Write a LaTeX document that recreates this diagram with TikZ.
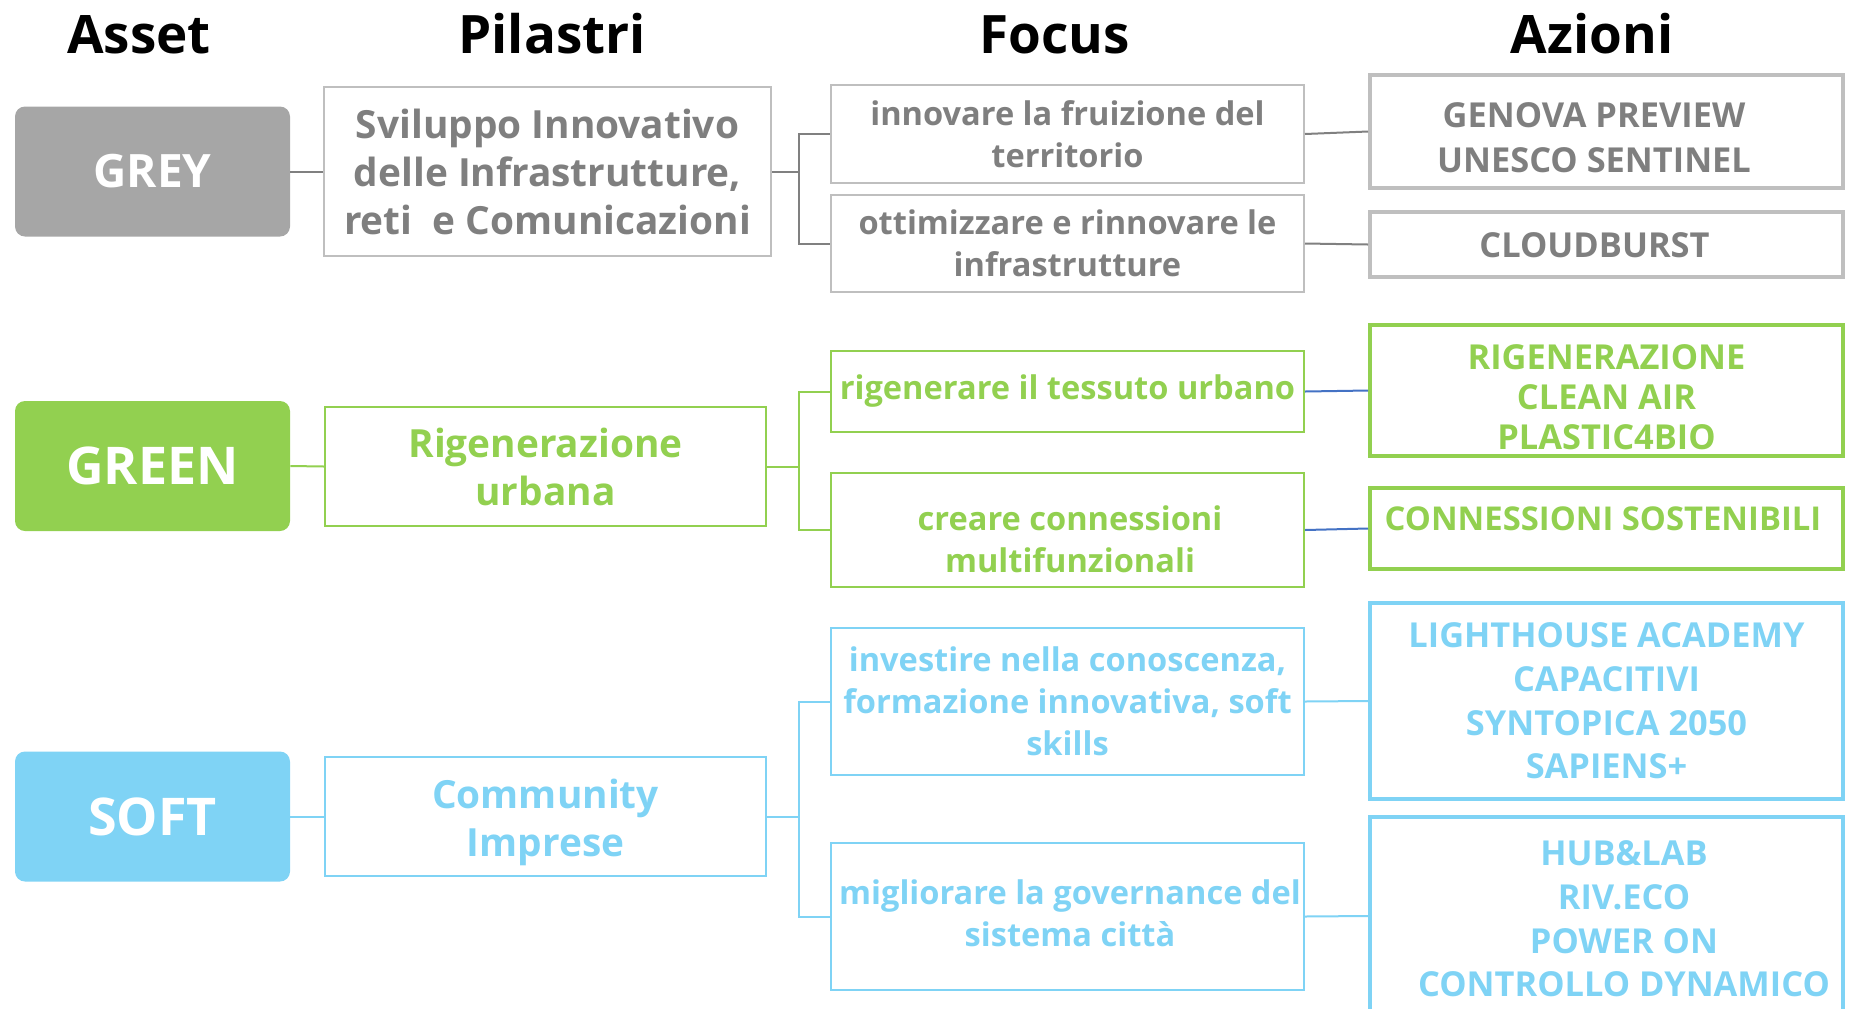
\documentclass[tikz,border=0pt]{standalone}
\usepackage{fontspec}
\setmainfont{Open Sans}
\definecolor{greyfill}{HTML}{A6A6A6}
\definecolor{greytxt}{HTML}{7F7F7F}
\definecolor{greybd}{HTML}{BFBFBF}
\definecolor{greyln}{HTML}{808080}
\definecolor{greenc}{HTML}{92D050}
\definecolor{bluec}{HTML}{7FD3F5}
\definecolor{linkblue}{HTML}{4472C4}
\begin{document}
\begin{tikzpicture}[x=0.5pt,y=-0.5pt,
  hdr/.style={anchor=base, font=\fontsize{26.5}{30}\selectfont\bfseries, text=black},
  asset/.style={rounded corners=5pt, inner sep=0pt, minimum width=137.5pt, minimum height=65pt, text=white},
  pil/.style={draw, line width=1pt, inner sep=0pt, align=center, font=\fontsize{19.4}{24}\selectfont\bfseries},
  foc/.style={draw, line width=1pt, inner sep=0pt, align=center, minimum width=236.5pt, font=\fontsize{16.3}{21}\selectfont\bfseries},
  azi/.style={draw, line width=2pt, inner sep=0pt, align=center, minimum width=236.5pt, font=\fontsize{17.2}{21.8}\selectfont\bfseries},
  txt/.style={inner sep=0pt, align=center},
  conn/.style={line width=1pt},
]
\useasboundingbox (0,0) rectangle (1849,1008);
\clip (0,0) rectangle (1849,1008);

% headers
\node[hdr] (hA) at (139,53) {Asset};
\node[hdr] (hP) at (552,53) {Pilastri};
\node[hdr] (hF) at (1055,53) {Focus};
\node[hdr] (hZ) at (1592,53) {Azioni};

% assets
\node[asset, fill=greyfill, font=\fontsize{23}{28}\selectfont\bfseries] (grey) at (152.5,171.5) {GREY};
\node[asset, fill=greenc, font=\fontsize{26}{30}\selectfont\bfseries] (green) at (152.5,466) {GREEN};
\node[asset, fill=bluec, font=\fontsize{26}{30}\selectfont\bfseries] (soft) at (152.5,816.5) {SOFT};

% pilastri
\node[pil, draw=greybd, text=greytxt, minimum width=223.5pt, minimum height=84.5pt] (p1) at (547.5,171.5)
  {Sviluppo Innovativo\\delle Infrastrutture,\\reti\ \ e Comunicazioni};
\node[pil, draw=greenc, text=greenc, minimum width=220.5pt, minimum height=59.5pt] (p2) at (545.5,466.5)
  {Rigenerazione\\urbana};
\node[pil, draw=bluec, minimum width=220.5pt, minimum height=59.5pt] (p3) at (545.5,816.5) {};
\node[txt, pil, draw=none, text=bluec] (p3t) at (545.5,822) {Community\\Imprese};

% focus
\node[foc, draw=greybd, text=greytxt, minimum height=49pt] (f1) at (1067.5,134) {innovare la fruizione del\\territorio};
\node[foc, draw=greybd, text=greytxt, minimum height=48.5pt] (f2) at (1067.5,243.5) {ottimizzare e rinnovare le\\infrastrutture};
\node[foc, draw=greenc, text=greenc, minimum height=40.5pt] (f3) at (1067.5,391.5) {rigenerare il tessuto urbano};
\node[foc, draw=greenc, minimum height=57pt] (f4) at (1067.5,530) {};
\node[txt, foc, draw=none, minimum width=0pt, text=greenc] (f4t) at (1070,539) {creare connessioni\\multifunzionali};
\node[foc, draw=bluec, text=bluec, minimum height=73.5pt] (f5) at (1067.5,701.5) {investire nella conoscenza,\\formazione innovativa, soft\\skills};
\node[foc, draw=bluec, text=bluec, minimum height=73.5pt] (f6) at (1067.5,916.5) {};
\node[txt, foc, draw=none, minimum width=0pt, text=bluec] (f6t) at (1070,913) {migliorare la governance del\\sistema città};

% azioni
\node[azi, draw=greybd, minimum height=56.5pt] (a1) at (1606.5,131.5) {};
\node[txt, azi, draw=none, minimum width=0pt, text=greytxt, font=\fontsize{17.2}{22.5}\selectfont\bfseries] (a1t) at (1594,138) {GENOVA PREVIEW\\UNESCO SENTINEL};
\node[azi, draw=greybd, minimum height=32.5pt] (a2) at (1606.5,244.5) {};
\node[txt, azi, draw=none, minimum width=0pt, text=greytxt] (a2t) at (1594.5,245) {CLOUDBURST};
\node[azi, draw=greenc, minimum height=65.5pt] (a3) at (1606.5,390.5) {};
\node[txt, azi, draw=none, minimum width=0pt, text=greenc, font=\fontsize{17.2}{20}\selectfont\bfseries] (a3t) at (1606.5,397) {RIGENERAZIONE\\CLEAN AIR\\PLASTIC4BIO};
\node[azi, draw=greenc, minimum height=40.5pt] (a4) at (1606.5,528.5) {};
\node[txt, azi, draw=none, minimum width=0pt, text=greenc, font=\fontsize{16.4}{20}\selectfont\bfseries] (a4t) at (1603,519) {CONNESSIONI SOSTENIBILI};
\node[azi, draw=bluec, text=bluec, minimum height=98pt] (a5) at (1606.5,701) {LIGHTHOUSE ACADEMY\\CAPACITIVI\\SYNTOPICA 2050\\SAPIENS+};
\node[azi, draw=bluec, minimum height=99pt] (a6) at (1606.5,916) {};
\node[txt, azi, draw=none, minimum width=0pt, text=bluec] (a6t) at (1624,919) {HUB\&LAB\\RIV.ECO\\POWER ON\\CONTROLLO DYNAMICO};

% bracket coordinates
\coordinate (bx) at (799,0);
\coordinate (b1) at (p1.east -| bx);
\coordinate (b2) at (p2.east -| bx);
\coordinate (b3) at (p3.east -| bx);

% connectors grey
\draw[conn, greyln] (grey.east) -- (p1.west);
\draw[conn, greyln] (p1.east) -- (b1);
\draw[conn, greyln] (b1) |- (f1.west);
\draw[conn, greyln] (b1) |- (f2.west);
\draw[conn, greyln] (f1.east) -- (a1.west);
\draw[conn, greyln] (f2.east) -- (a2.west);

% connectors green
\draw[conn, greenc] (green.east) -- (p2.west);
\draw[conn, greenc] (p2.east) -- (b2);
\draw[conn, greenc] (b2) |- (f3.west);
\draw[conn, greenc] (b2) |- (f4.west);
\draw[conn, linkblue] (f3.east) -- (a3.west);
\draw[conn, linkblue] (f4.east) -- (a4.west);

% connectors soft
\draw[conn, bluec] (soft.east) -- (p3.west);
\draw[conn, bluec] (p3.east) -- (b3);
\draw[conn, bluec] (b3) |- (f5.west);
\draw[conn, bluec] (b3) |- (f6.west);
\draw[conn, bluec] (f5.east) -- (a5.west);
\draw[conn, bluec] (f6.east) -- (a6.west);
\end{tikzpicture}
\end{document}
